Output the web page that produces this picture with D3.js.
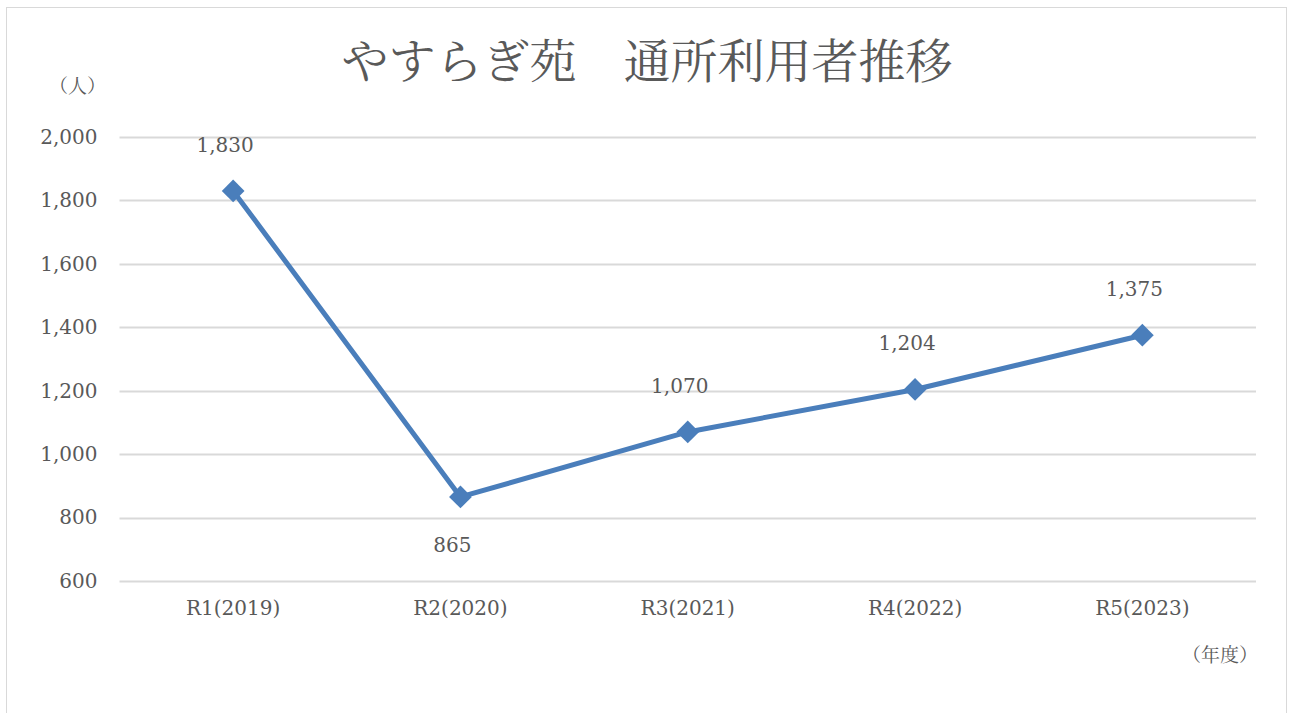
<!DOCTYPE html>
<html>
<head>
<meta charset="utf-8">
<script src="https://cdn.jsdelivr.net/npm/d3@7"></script>
<style>
body { margin: 0; background: #fff; }
svg text { font-family: "DejaVu Serif", "Noto Serif CJK JP", "Noto Sans CJK JP", serif; fill: #595959; }
</style>
</head>
<body>
<div id="chart"></div>
<script>
var categories = ["R1(2019)", "R2(2020)", "R3(2021)", "R4(2022)", "R5(2023)"];
var users = [1830, 865, 1070, 1204, 1375];
var yTicks = [600, 800, 1000, 1200, 1400, 1600, 1800, 2000];
var title = "やすらぎ苑\u3000通所利用者推移";

var width = 1289, height = 713;
var margin = {top: 137, right: 33, bottom: 132, left: 119.5};

var svg = d3.select("#chart").append("svg").attr("width", width).attr("height", height);

// outer frame
svg.append("rect").attr("x", 6.5).attr("y", 7.5).attr("width", 1280).attr("height", 720)
  .attr("fill", "#fff").attr("stroke", "#d9d9d9").attr("stroke-width", 1);

var x = d3.scaleBand().domain(categories).range([margin.left, width - margin.right]);
var y = d3.scaleLinear().domain([600, 2000]).range([height - margin.bottom, margin.top]);

// gridlines
svg.append("g").selectAll("line").data(yTicks).join("line")
  .attr("x1", margin.left).attr("x2", width - margin.right)
  .attr("y1", function(d){ return Math.round(y(d)) + 0.5; })
  .attr("y2", function(d){ return Math.round(y(d)) + 0.5; })
  .attr("stroke", "#d9d9d9").attr("stroke-width", 2);

// y axis labels
var yAxis = d3.axisLeft(y).tickValues(yTicks).tickFormat(d3.format(",")).tickSize(0).tickPadding(22);
var gy = svg.append("g").attr("transform", "translate(" + margin.left + ",0)").call(yAxis);
gy.select(".domain").remove();
gy.selectAll("text").attr("font-size", 20).style("font-family", null);

// x axis labels
var xAxis = d3.axisBottom(x).tickSize(0).tickPadding(20);
var gx = svg.append("g").attr("transform", "translate(0," + (height - margin.bottom) + ")").call(xAxis);
gx.select(".domain").remove();
gx.selectAll("text").attr("font-size", 20).style("font-family", null);

function cx(d, i){ return x(categories[i]) + x.bandwidth() / 2; }

var line = d3.line().x(function(d, i){ return cx(d, i); }).y(function(d){ return y(d); });
svg.append("path").datum(users).attr("d", line)
  .attr("fill", "none").attr("stroke", "#4a7ebb").attr("stroke-width", 5).attr("stroke-linejoin", "round");

svg.append("g").selectAll("path").data(users).join("path")
  .attr("d", d3.symbol().type(d3.symbolDiamond2).size(330))
  .attr("transform", function(d, i){ return "translate(" + cx(d, i) + "," + y(d) + ")"; })
  .attr("fill", "#4a7ebb");

// data labels
svg.append("g").selectAll("text").data(users).join("text")
  .attr("x", function(d, i){ return cx(d, i) - 8; })
  .attr("y", function(d, i){ return i === 1 ? y(d) + 55 : y(d) - 39; })
  .attr("text-anchor", "middle").attr("font-size", 20)
  .text(function(d){ return d3.format(",")(d); });

// title and unit labels
svg.append("text").attr("x", 647).attr("y", 78).attr("text-anchor", "middle")
  .attr("font-size", 47).text(title);
svg.append("text").attr("x", 106).attr("y", 93).attr("text-anchor", "end")
  .attr("font-size", 19).text("（人）");
svg.append("text").attr("x", 1258).attr("y", 662).attr("text-anchor", "end")
  .attr("font-size", 19).text("（年度）");
</script>
</body>
</html>
